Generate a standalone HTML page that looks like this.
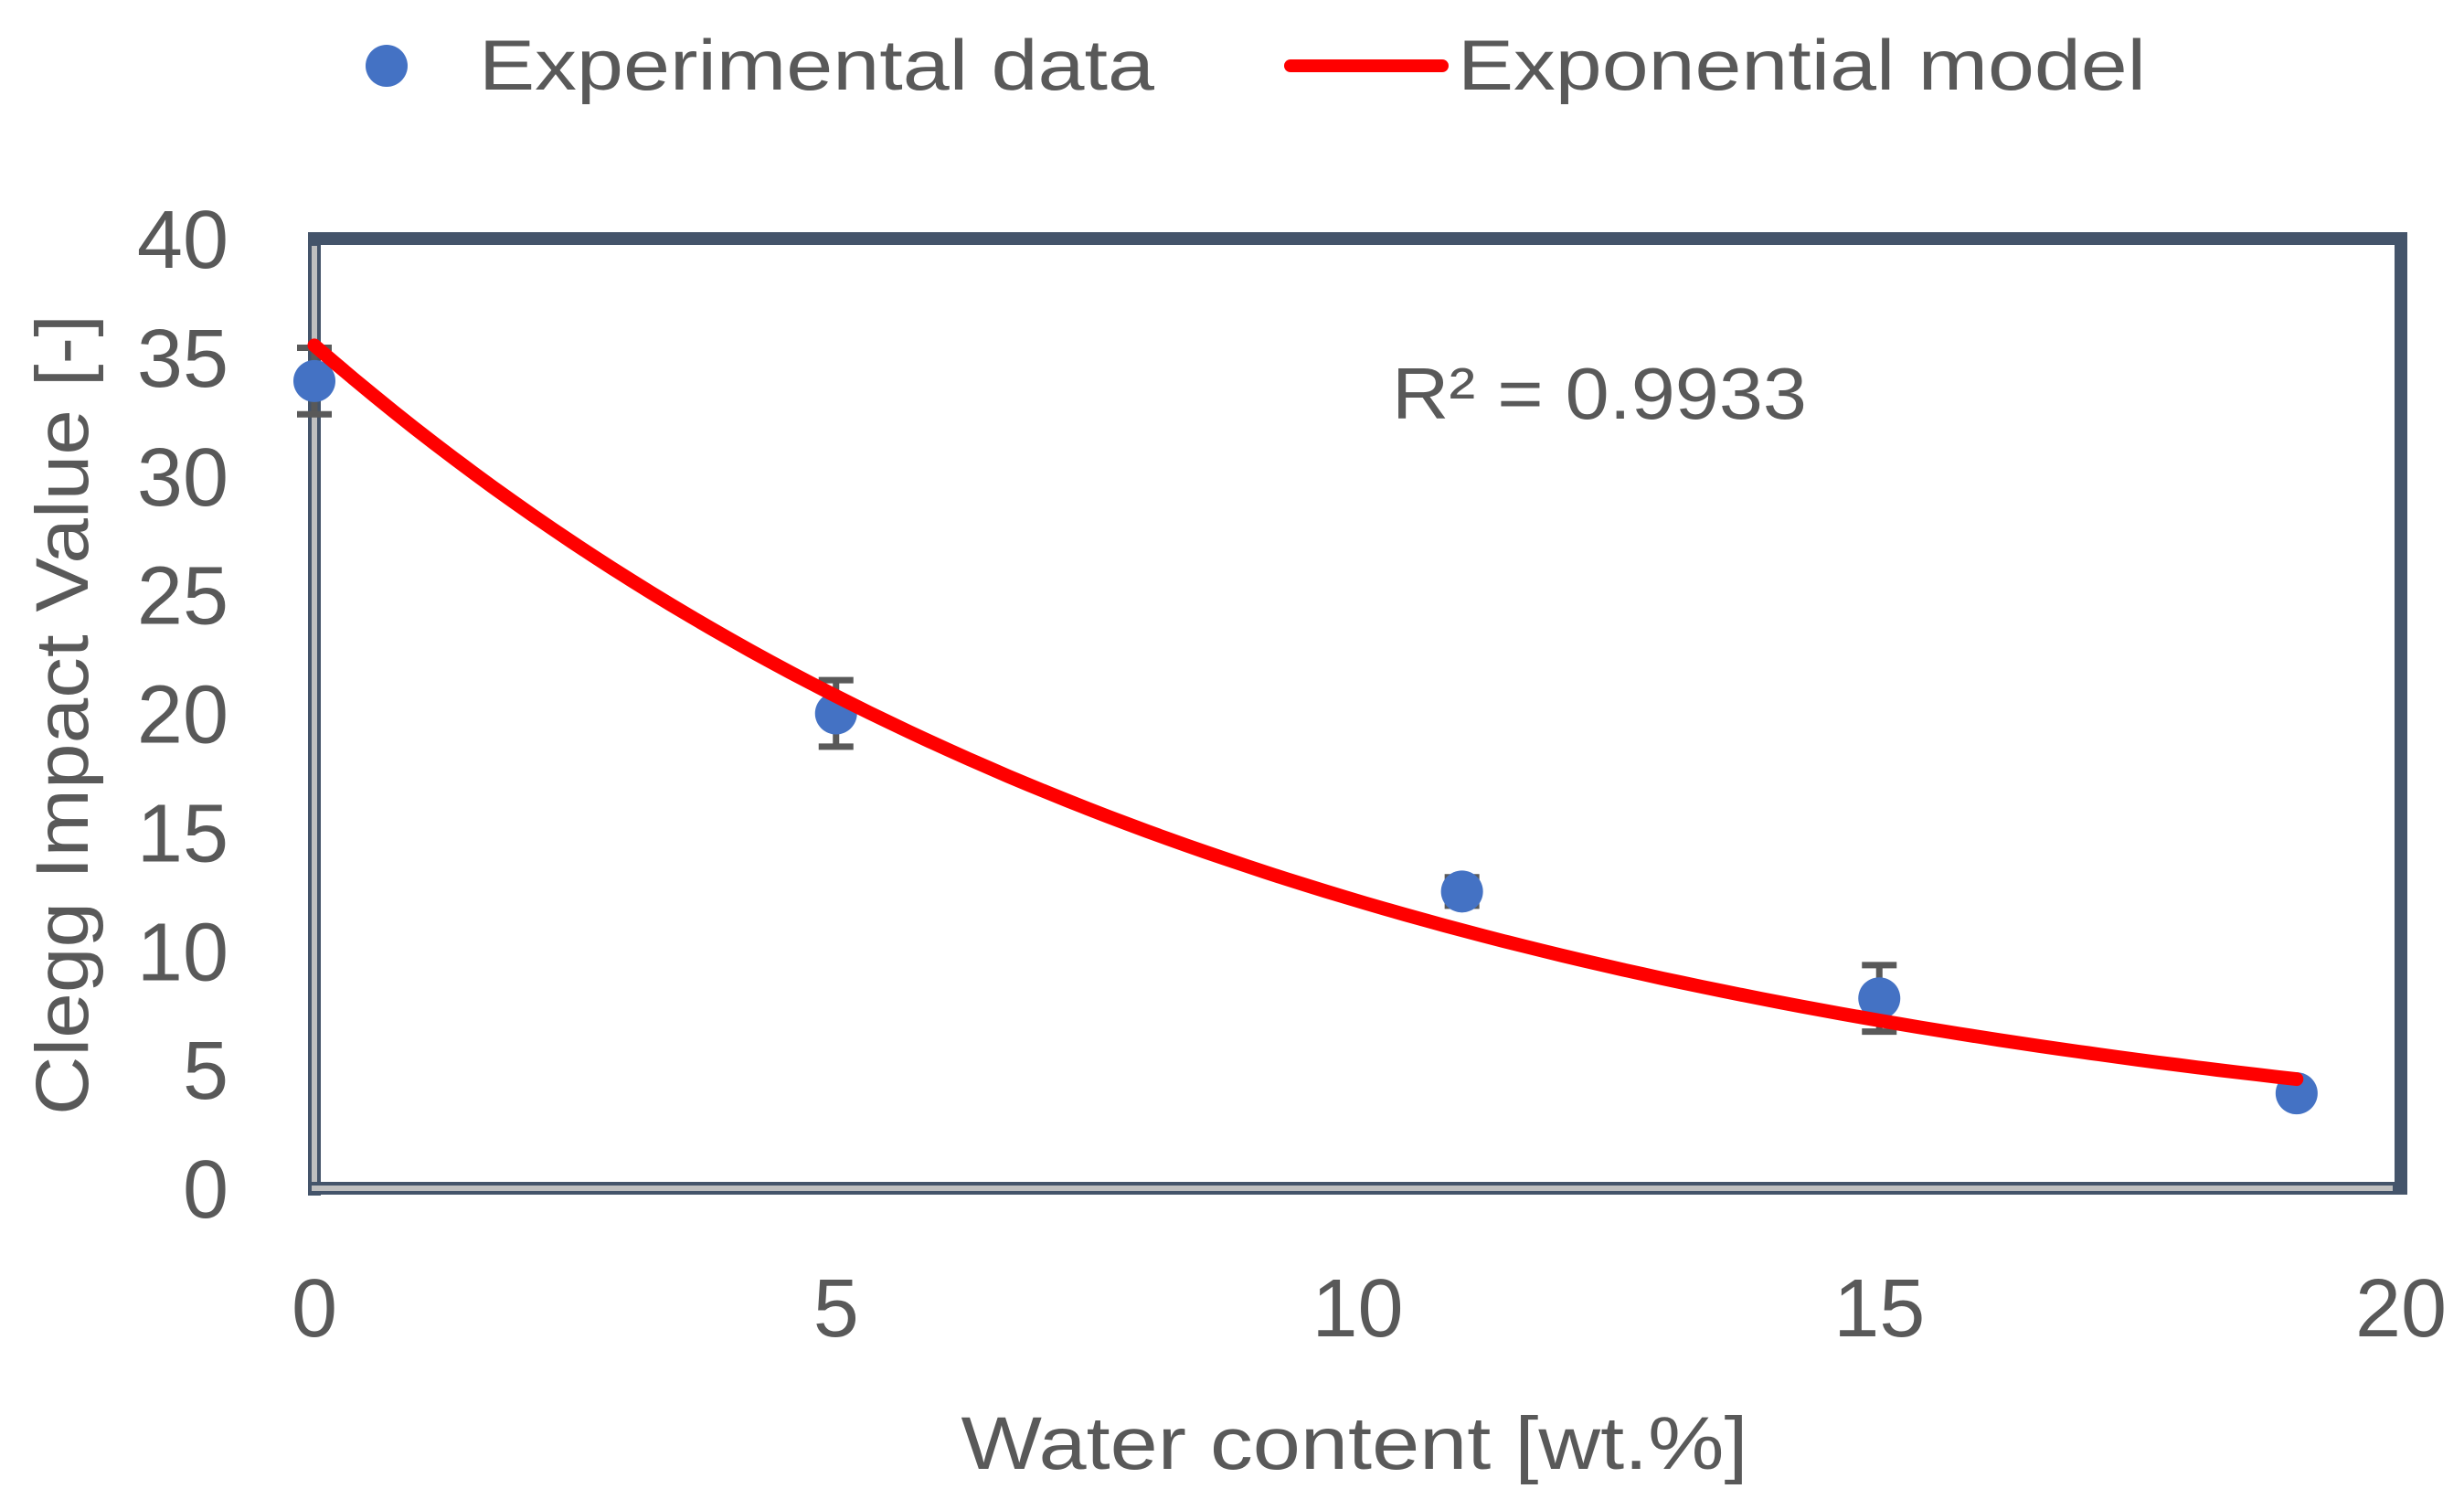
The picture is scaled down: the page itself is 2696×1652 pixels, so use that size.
<!DOCTYPE html>
<html><head><meta charset="utf-8"><style>
html,body{margin:0;padding:0;background:#fff;}
svg{display:block;font-family:"Liberation Sans",sans-serif;fill:#595959;}
</style></head><body>
<svg id="chart" width="2696" height="1652" viewBox="0 0 2696 1652" xmlns="http://www.w3.org/2000/svg">
<g id="legend">
  <circle cx="423" cy="72" r="23" fill="#4472c4"/>
  <text x="524" y="98" font-size="78" textLength="739" lengthAdjust="spacingAndGlyphs">Experimental data</text>
  <line x1="1412" y1="72" x2="1578" y2="72" stroke="#ff0000" stroke-width="14" stroke-linecap="round"/>
  <text x="1595" y="98" font-size="78" textLength="753" lengthAdjust="spacingAndGlyphs">Exponential model</text>
</g>
<g id="frame"></g>
<g id="yticks"></g>
<g id="xticks"></g>
<g id="series"></g>
<text x="1523" y="458" font-size="80" textLength="454" lengthAdjust="spacingAndGlyphs">R² = 0.9933</text>
<text x="1482" y="1607" font-size="82" text-anchor="middle" textLength="861" lengthAdjust="spacingAndGlyphs">Water content [wt.%]</text>
<text transform="translate(96,782) rotate(-90)" x="0" y="0" font-size="82" text-anchor="middle" textLength="876" lengthAdjust="spacingAndGlyphs">Clegg Impact Value [-]</text>
</svg>
<script>
const xValues = [0, 5, 11, 15, 19];
const yValues = [34, 20, 12.5, 8, 4];
const yErrors = [1.4, 1.4, 0.6, 1.4, 0];
const modelA = [35.5];
const modelB = [0.1076];
const modelRange = [0, 19];
const xTickLabels = [0, 5, 10, 15, 20];
const yTickLabels = [0, 5, 10, 15, 20, 25, 30, 35, 40];

const NS = "http://www.w3.org/2000/svg";
const X0 = 344, X1 = 2627, Y0 = 1300, Y1 = 261;
function sx(v){ return X0 + (v - 0) / 20 * (X1 - X0); }
function sy(v){ return Y0 - (v - 0) / 40 * (Y0 - Y1); }
function mk(tag, attrs, parent){
  const e = document.createElementNS(NS, tag);
  for (const k in attrs) e.setAttribute(k, attrs[k]);
  parent.appendChild(e);
  return e;
}

const frame = document.getElementById('frame');
let r = mk('rect', {x: X0, y: Y1, width: X1 - X0, height: Y0 - Y1, fill: 'none', stroke: '#44546a', 'stroke-width': 14}, frame);


let lw = mk('rect', {x: X0 - 5, y: Y1 + 6, width: 10, height: Y0 - Y1, fill: '#bfbfbf', stroke: '#44546a', 'stroke-width': 4}, frame);


let bw = mk('rect', {x: X0 - 5, y: Y0 - 5, width: X1 - X0 - 2, height: 10, fill: '#bfbfbf', stroke: '#44546a', 'stroke-width': 4}, frame);



const yt = document.getElementById('yticks');
yTickLabels.forEach(v => {
  const t = mk('text', {x: 250, y: sy(v) + 32, 'font-size': 90, 'text-anchor': 'end'}, yt);
  t.textContent = v;
  
  
});
const xt = document.getElementById('xticks');
xTickLabels.forEach(v => {
  const t = mk('text', {x: sx(v), y: 1462, 'font-size': 90, 'text-anchor': 'middle'}, xt);
  t.textContent = v;
  
  
});

const ser = document.getElementById('series');
xValues.forEach((x, i) => {
  const e = yErrors[i];
  if (e <= 0) return;
  const g = mk('g', {stroke: '#595959', 'stroke-width': 7, fill: 'none'}, ser);
  
  
  const cx = sx(x), top = sy(yValues[i] + e), bot = sy(yValues[i] - e);
  mk('line', {x1: cx, y1: top, x2: cx, y2: bot}, g);
  mk('line', {x1: cx - 19, y1: top, x2: cx + 19, y2: top}, g);
  mk('line', {x1: cx - 19, y1: bot, x2: cx + 19, y2: bot}, g);
});
xValues.forEach((x, i) => {
  const c = mk('circle', {cx: sx(x), cy: sy(yValues[i]), r: 23, fill: '#4472c4'}, ser);
  
  
});
let d = '';
const N = 100;
for (let k = 0; k <= N; k++){
  const x = modelRange[0] + (modelRange[1] - modelRange[0]) * k / N;
  const y = modelA[0] * Math.exp(-modelB[0] * x);
  d += (k ? 'L' : 'M') + sx(x).toFixed(1) + ',' + sy(y).toFixed(1);
}
const p = mk('path', {d: d, fill: 'none', stroke: '#ff0000', 'stroke-width': 15, 'stroke-linecap': 'round', 'stroke-linejoin': 'round'}, ser);


</script>
</body></html>
